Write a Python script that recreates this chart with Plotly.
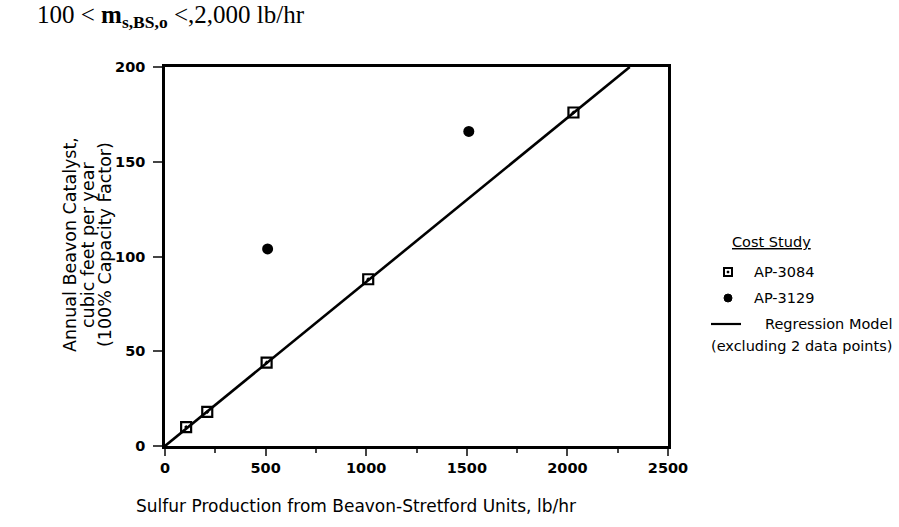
import plotly.graph_objects as go

# Annual Beavon catalyst requirement vs. sulfur production
ap3084_x = [105, 210, 505, 1010, 2030]
ap3084_y = [10, 18, 44, 88, 176]
ap3129_x = [510, 1510]
ap3129_y = [104, 166]
regression_x = [0, 2310]
regression_y = [0, 200]

x_ticks = [0, 500, 1000, 1500, 2000, 2500]
y_ticks = [0, 50, 100, 150, 200]
y_tick_labels = ["0", "50", "100", "150", "200"]
y_title_lines = ["Annual Beavon Catalyst,", "cubic feet per year", "(100% Capacity Factor)"]

W, H = 899, 527
L, R, T, B = 165, 668, 67, 446
SANS = "DejaVu Sans"


def px(x):
    return (x - L) / (R - L)


def py(y):
    return (B - y) / (B - T)


fig = go.Figure()
fig.add_trace(go.Scatter(
    x=regression_x, y=regression_y, mode="lines",
    line=dict(color="black", width=2.6), showlegend=False))
fig.add_trace(go.Scatter(
    x=ap3084_x, y=ap3084_y, mode="markers",
    marker=dict(symbol="square-open-dot", size=10, color="black",
                line=dict(color="black", width=2.2)),
    cliponaxis=False, showlegend=False))
fig.add_trace(go.Scatter(
    x=ap3129_x, y=ap3129_y, mode="markers",
    marker=dict(symbol="circle", size=11, color="black"),
    cliponaxis=False, showlegend=False))

tick_font = dict(family=SANS, size=14.5, color="black", weight="bold")
fig.update_xaxes(
    range=[0, 2500], tickvals=x_ticks, ticks="outside", ticklen=7, tickwidth=2,
    showline=True, linewidth=2.5, linecolor="black", mirror=True,
    showgrid=False, zeroline=False, tickfont=tick_font,
    minor=dict(dtick=250, tick0=0, ticks="outside", ticklen=4, tickwidth=2,
               showgrid=False),
)
fig.update_yaxes(
    range=[0, 200], tickvals=y_ticks, ticktext=y_tick_labels,
    ticks="outside", ticklen=9, tickwidth=2, ticklabelstandoff=5,
    showline=True, linewidth=2.5, linecolor="black", mirror=True,
    showgrid=False, zeroline=False, tickfont=tick_font,
)

annotations = []
# heading above the chart
annotations.append(dict(
    xref="paper", yref="paper", x=px(35), y=py(17), xanchor="left", yanchor="middle",
    text="100 &lt; <b>m</b><sub><b>s,BS,o</b></sub> &lt;,2,000 lb/hr",
    showarrow=False, font=dict(family="Liberation Serif", size=25, color="black")))
# x axis title
annotations.append(dict(
    xref="paper", yref="paper", x=px(356), y=py(506), xanchor="center", yanchor="middle",
    text="Sulfur Production from Beavon-Stretford Units, lb/hr",
    showarrow=False, font=dict(family=SANS, size=17, color="black")))
# y axis title, one annotation per line
for line_text, cx in zip(y_title_lines, [70, 88, 105]):
    annotations.append(dict(
        xref="paper", yref="paper", x=px(cx), y=py(245), xanchor="center",
        yanchor="middle", text=line_text, textangle=-90, showarrow=False,
        font=dict(family=SANS, size=17.5, color="black")))

leg_font = dict(family=SANS, size=14.5, color="black")
annotations += [
    dict(xref="paper", yref="paper", x=px(771), y=py(242), xanchor="center",
         yanchor="middle", text="<u>Cost Study</u>", showarrow=False, font=leg_font),
    dict(xref="paper", yref="paper", x=px(752), y=py(272), xanchor="left",
         yanchor="middle", text="AP-3084", showarrow=False, font=leg_font),
    dict(xref="paper", yref="paper", x=px(752), y=py(298), xanchor="left",
         yanchor="middle", text="AP-3129", showarrow=False, font=leg_font),
    dict(xref="paper", yref="paper", x=px(894), y=py(324), xanchor="right",
         yanchor="middle", text="Regression Model", showarrow=False, font=leg_font),
    dict(xref="paper", yref="paper", x=px(894), y=py(346), xanchor="right",
         yanchor="middle", text="(excluding 2 data points)", showarrow=False,
         font=leg_font),
]

shapes = [
    dict(type="rect", xref="paper", yref="paper",
         x0=px(724), x1=px(732), y0=py(276), y1=py(268),
         line=dict(color="black", width=2), fillcolor="white"),
    dict(type="rect", xref="paper", yref="paper",
         x0=px(727), x1=px(729), y0=py(273), y1=py(271),
         line=dict(color="black", width=0.5), fillcolor="black"),
    dict(type="circle", xref="paper", yref="paper",
         x0=px(724), x1=px(732), y0=py(302), y1=py(294),
         line=dict(color="black", width=1), fillcolor="black"),
    dict(type="line", xref="paper", yref="paper",
         x0=px(711), x1=px(741), y0=py(324), y1=py(324),
         line=dict(color="black", width=2.2)),
]

fig.update_layout(
    width=W, height=H,
    margin=dict(l=L, r=W - R, t=T, b=H - B),
    paper_bgcolor="white", plot_bgcolor="white",
    annotations=annotations, shapes=shapes, showlegend=False,
)

fig.write_html("out.html")
